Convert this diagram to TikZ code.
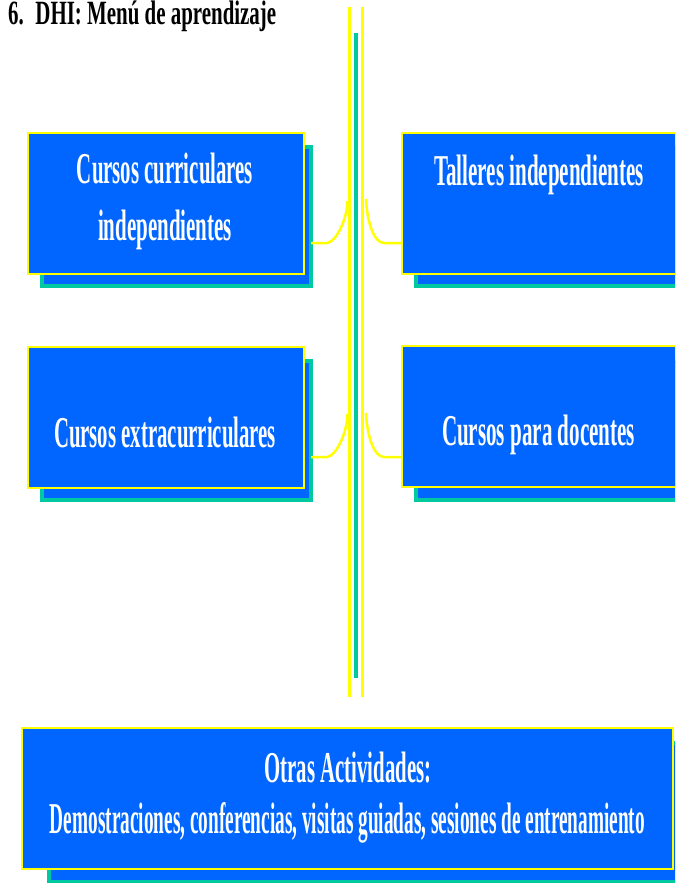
\documentclass[tikz,border=0pt]{standalone}
\usepackage{fontspec}
\usepackage{graphicx}
\setmainfont{Liberation Serif}
\definecolor{boxblue}{RGB}{0,102,255}
\definecolor{shteal}{RGB}{0,200,160}
\definecolor{ylw}{RGB}{255,255,0}
\newcommand{\sqz}[2]{\resizebox{#1pt}{\height}{#2}}
\begin{document}
\begin{tikzpicture}[x=1pt,y=-1pt,
  mainbox/.style={rectangle, draw=ylw, fill=boxblue, line width=2pt, inner sep=0pt, outer sep=0pt, minimum height=141pt},
  shbox/.style={rectangle, draw=shteal, fill=boxblue, line width=4pt, inner sep=0pt, outer sep=0pt, minimum height=139pt},
  lbl/.style={text=white, font=\bfseries\fontsize{44}{52}\selectfont, inner sep=0pt, anchor=base},
  conn/.style={draw=ylw, line width=2.5pt},
  rail/.style={draw=ylw, line width=3pt},
  midrail/.style={draw=shteal, line width=4pt}]
\useasboundingbox (0,0) rectangle (675,883);
\clip (0,0) rectangle (675,883);
\fill[white] (0,0) rectangle (675,883);

% title
\node[anchor=base west, inner sep=0pt, font=\bfseries\fontsize{34}{40}\selectfont] (title) at (8,25)
  {\sqz{268}{6.\hspace{0.55em}DHI: Menú de aprendizaje}};

% shadows
\node[shbox, minimum width=269pt] (s1) at (176.5,216) {};
\node[shbox, minimum width=269pt] (s2) at (550.5,216) {};
\node[shbox, minimum width=269pt] (s3) at (176.5,430) {};
\node[shbox, minimum width=269pt] (s4) at (550.5,430) {};
\node[shbox, minimum width=639pt] (s5) at (368,812) {};

% boxes
\node[mainbox, minimum width=276pt] (b1) at (166,203.5) {};
\node[mainbox, minimum width=276pt] (b2) at (540,203.5) {};
\node[mainbox, minimum width=276pt] (b3) at (166,417) {};
\node[mainbox, minimum width=276pt] (b4) at (540,416) {};
\node[mainbox, minimum width=651pt] (b5) at (347.5,798.5) {};

% texts
\node[lbl] (t1a) at (165,183) {\sqz{176}{Cursos curriculares}};
\node[lbl] (t1b) at (165,240) {\sqz{134}{independientes}};
\node[lbl] (t2) at (539,185) {\sqz{210}{Talleres independientes}};
\node[lbl] (t3) at (165,447) {\sqz{222}{Cursos extracurriculares}};
\node[lbl] (t4) at (538.5,445) {\sqz{193}{Cursos para docentes}};
\node[lbl] (t5a) at (348,782) {\sqz{167}{Otras Actividades:}};
\node[lbl] (t5b) at (347.5,833) {\sqz{595}{Demostraciones, conferencias, visitas guiadas, sesiones de entrenamiento}};

% rails
\coordinate (rl1) at (349,7);  \coordinate (rl2) at (349,697);
\coordinate (rr1) at (362,7);  \coordinate (rr2) at (362,697);
\coordinate (rm1) at (355.5,33); \coordinate (rm2) at (355.5,678);
\draw[rail] (rl1) -- (rl2);
\draw[rail] (rr1) -- (rr2);
\draw[midrail] (rm1) -- (rm2);

% connectors
\coordinate (hl1) at (327,243); \coordinate (jl1) at (347.5,201);
\coordinate (jr1) at (366,199); \coordinate (hr1) at (384,243);
\coordinate (hl3) at (327,457); \coordinate (jl3) at (347.5,414);
\coordinate (jr3) at (366,413); \coordinate (hr3) at (384,457);
\draw[conn] (s1.east |- hl1) -- (hl1) .. controls (336,242) and (347,220) .. (jl1);
\draw[conn] (jr1) .. controls (367,222) and (374,243) .. (hr1) -- (b2.west |- hr1);
\draw[conn] (s3.east |- hl3) -- (hl3) .. controls (336,456) and (347,434) .. (jl3);
\draw[conn] (jr3) .. controls (367,436) and (374,457) .. (hr3) -- (b4.west |- hr3);
\end{tikzpicture}
\end{document}
